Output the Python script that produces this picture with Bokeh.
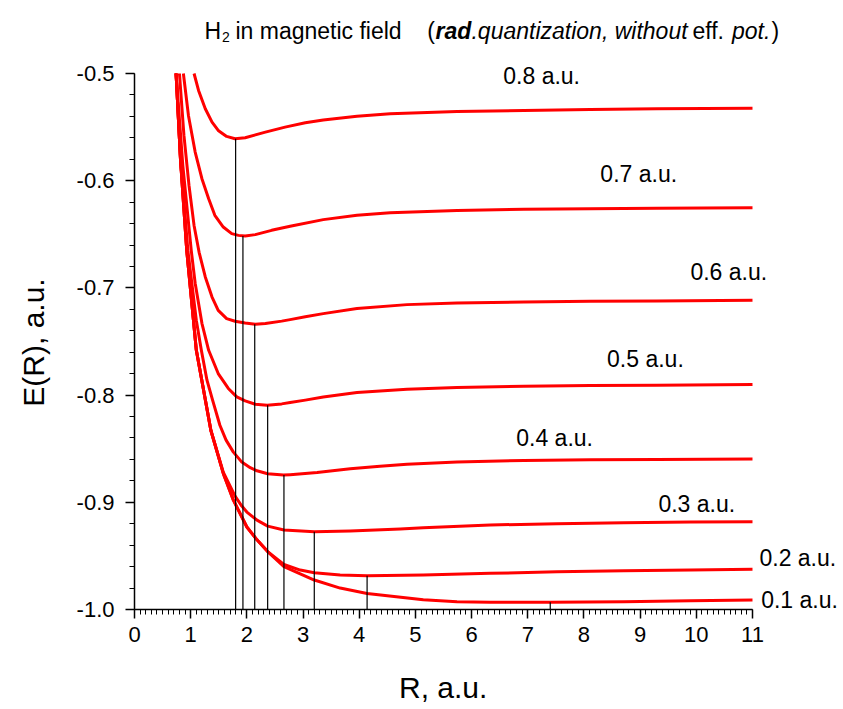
from bokeh.plotting import figure
from bokeh.models import Range1d, FixedTicker, PrintfTickFormatter, Label
from bokeh.embed import file_html
from bokeh.resources import INLINE

# ---------------- data ----------------
fields = ["0.1", "0.2", "0.3", "0.4", "0.5", "0.6", "0.7", "0.8"]

R_01 = [0.74, 0.82, 0.93, 1.10, 1.36, 1.58, 1.76, 2.00, 2.18, 2.37, 2.66, 3.20, 3.66, 4.14, 5.14, 5.74, 6.33, 7.40, 8.71, 9.90, 11.0]
E_01 = [-0.500, -0.581, -0.665, -0.758, -0.833, -0.873, -0.898, -0.923, -0.935, -0.946, -0.960, -0.9725, -0.980, -0.985, -0.991, -0.9927, -0.9933, -0.9933, -0.9927, -0.9918, -0.9911]

R_02 = [0.74, 0.82, 0.93, 1.10, 1.36, 1.58, 1.76, 2.00, 2.18, 2.37, 2.66, 2.95, 3.20, 3.66, 4.14, 5.14, 6.33, 7.52, 8.71, 9.90, 11.0]
E_02 = [-0.500, -0.581, -0.665, -0.758, -0.833, -0.873, -0.898, -0.923, -0.935, -0.946, -0.958, -0.9632, -0.9657, -0.9678, -0.9685, -0.9678, -0.9663, -0.9648, -0.9638, -0.9632, -0.9625]

R_03 = [0.74, 0.82, 0.93, 1.10, 1.36, 1.58, 1.79, 1.91, 2.00, 2.18, 2.37, 2.66, 3.20, 3.84, 4.73, 5.14, 6.33, 7.52, 8.71, 9.90, 11.0]
E_03 = [-0.500, -0.581, -0.665, -0.758, -0.833, -0.872, -0.8942, -0.9035, -0.9091, -0.9166, -0.9222, -0.9259, -0.9275, -0.9268, -0.9248, -0.9237, -0.9212, -0.9199, -0.9191, -0.9184, -0.9182]

R_04 = [0.74, 0.82, 0.95, 1.10, 1.19, 1.29, 1.39, 1.52, 1.63, 1.76, 1.91, 2.06, 2.18, 2.37, 2.65, 2.77, 3.25, 3.84, 4.37, 4.85, 5.74, 6.93, 8.11, 9.30, 11.0]
E_04 = [-0.500, -0.581, -0.665, -0.7302, -0.7582, -0.7861, -0.8047, -0.8281, -0.8420, -0.8532, -0.8625, -0.8677, -0.8706, -0.8733, -0.8746, -0.8742, -0.8722, -0.8688, -0.8663, -0.8645, -0.8625, -0.8609, -0.8604, -0.8600, -0.8597]

R_05 = [0.74, 0.86, 1.01, 1.08, 1.20, 1.32, 1.49, 1.67, 1.82, 1.97, 2.15, 2.36, 2.62, 2.77, 3.04, 3.36, 3.96, 4.85, 5.74, 6.93, 8.11, 9.30, 11.0]
E_05 = [-0.500, -0.5857, -0.665, -0.6957, -0.7330, -0.7582, -0.7799, -0.7938, -0.8017, -0.8054, -0.8085, -0.8094, -0.8082, -0.8070, -0.8047, -0.8017, -0.7976, -0.7945, -0.7929, -0.7917, -0.7911, -0.7908, -0.7901]

R_06 = [0.80, 0.88, 0.97, 1.06, 1.15, 1.26, 1.38, 1.49, 1.64, 1.79, 1.97, 2.15, 2.33, 2.62, 2.77, 3.04, 3.36, 3.96, 4.85, 5.74, 6.93, 8.11, 9.30, 11.0]
E_06 = [-0.500, -0.5578, -0.6044, -0.6417, -0.6668, -0.6898, -0.7085, -0.7209, -0.7286, -0.7311, -0.7327, -0.7339, -0.7333, -0.7310, -0.7296, -0.7270, -0.7240, -0.7193, -0.7156, -0.7141, -0.7131, -0.7125, -0.7122, -0.7116]

R_07 = [0.87, 0.96, 1.08, 1.20, 1.32, 1.43, 1.58, 1.73, 1.85, 1.97, 2.15, 2.44, 2.77, 3.36, 3.96, 4.55, 5.74, 6.93, 8.11, 9.30, 11.0]
E_07 = [-0.500, -0.5391, -0.5733, -0.5981, -0.6168, -0.6323, -0.6432, -0.6494, -0.6510, -0.6516, -0.6503, -0.6463, -0.6425, -0.6363, -0.6323, -0.6298, -0.6277, -0.6267, -0.6261, -0.6258, -0.6252]

R_08 = [1.06, 1.14, 1.26, 1.38, 1.49, 1.64, 1.79, 1.97, 2.33, 2.68, 3.04, 3.36, 3.96, 4.55, 5.74, 6.93, 8.11, 9.30, 11.0]
E_08 = [-0.500, -0.5158, -0.5329, -0.5454, -0.5531, -0.5587, -0.5609, -0.5599, -0.5547, -0.5500, -0.5459, -0.5433, -0.5398, -0.5376, -0.5354, -0.5345, -0.5336, -0.5329, -0.5323]

# positions of the minima (vertical marker lines)
R_min = [7.40, 4.14, 3.20, 2.66, 2.37, 2.14, 1.93, 1.80]
E_min = [-0.9933, -0.9685, -0.9275, -0.8746, -0.8094, -0.7339, -0.6516, -0.5609]

x_ticks = list(range(0, 12))
y_ticks = [-1.0, -0.9, -0.8, -0.7, -0.6, -0.5]

curves_R = [R_01, R_02, R_03, R_04, R_05, R_06, R_07, R_08]
curves_E = [E_01, E_02, E_03, E_04, E_05, E_06, E_07, E_08]

# ---------------- layout ----------------
# label anchor points (data coords)
label_x = [11.154, 11.124, 9.325, 6.795, 8.411, 9.895, 8.292, 6.564]
label_y = [-0.9911, -0.9520, -0.9017, -0.8397, -0.7665, -0.6855, -0.5941, -0.5019]

FONT = "Liberation Sans"
NBSP = "\u00a0"

# The frame is stretched to the top and right edges of the canvas so that the
# title and the curve labels beyond R = 11 are not clipped; the axes are bounded
# to the real data extent (R 0..11, E -1.0..-0.5).
p = figure(width=843, height=709,
           x_range=Range1d(0, 12.6197), y_range=Range1d(-1.0, -0.43190),
           output_backend="svg", toolbar_location=None,
           min_border_left=134, min_border_right=0,
           min_border_top=0, min_border_bottom=100)
p.outline_line_color = None
p.xgrid.visible = False
p.ygrid.visible = False
p.background_fill_color = "white"
p.border_fill_color = "white"

for R, E in zip(curves_R, curves_E):
    p.line(R, E, line_color="#ff0000", line_width=3, line_join="round")

p.segment(x0=R_min, y0=[-1.0] * len(R_min), x1=R_min, y1=E_min,
          line_color="black", line_width=1.2)

# axes
minor_x = [i / 10 for i in range(0, 111)]
minor_y = [-1.0 + i * 0.02 for i in range(0, 26)]
p.xaxis.ticker = FixedTicker(ticks=x_ticks, minor_ticks=minor_x)
p.yaxis.ticker = FixedTicker(ticks=y_ticks, minor_ticks=minor_y)
p.yaxis.formatter = PrintfTickFormatter(format="%.1f")
p.xaxis.bounds = (0, 11)
p.yaxis.bounds = (-1.0, -0.5)

for ax in (p.xaxis[0], p.yaxis[0]):
    ax.axis_line_color = "black"
    ax.axis_line_width = 1.5
    ax.major_tick_line_color = "black"
    ax.major_tick_line_width = 1.5
    ax.minor_tick_line_color = "black"
    ax.minor_tick_line_width = 1
    ax.major_tick_in = 0
    ax.major_tick_out = 9
    ax.minor_tick_in = 0
    ax.minor_tick_out = 5
    ax.major_label_text_font = FONT
    ax.major_label_text_font_size = "22px"
    ax.major_label_text_color = "black"
    ax.axis_label_text_font = FONT
    ax.axis_label_text_font_size = "30px"
    ax.axis_label_text_font_style = "normal"
    ax.axis_label_text_color = "black"

# axis titles are centred on the frame; trailing no-break spaces move them
# to the centre of the bounded axes as in the reference
p.xaxis.axis_label = "R, a.u." + NBSP * 11
p.yaxis.axis_label = "E(R), a.u." + NBSP * 9
p.xaxis.major_label_standoff = 8
p.xaxis.axis_label_standoff = 26
p.yaxis.major_label_standoff = 11
p.yaxis.axis_label_standoff = 24

# curve labels
for f, lx, ly in zip(fields, label_x, label_y):
    p.add_layout(Label(x=lx, y=ly, text=f + " a.u.", text_font=FONT,
                       text_font_size="23px", text_align="left",
                       text_baseline="middle", text_color="black"))

# title pieces (mixed styles)
title_base = -0.4599
title_parts = [
    ("H", 1.247, title_base, "23px", "normal"),
    ("2", 1.559, -0.4655, "14px", "normal"),
    ("in magnetic field", 1.797, title_base, "23px", "normal"),
    ("(", 5.210, title_base, "23px", "normal"),
    ("rad", 5.358, title_base, "23px", "bold italic"),
    (".quantization, without", 5.998, title_base, "23px", "italic"),
    ("eff.", 9.930, title_base, "23px", "normal"),
    ("pot.", 10.634, title_base, "23px", "italic"),
    (")", 11.338, title_base, "23px", "normal"),
]
for txt, tx, ty, fs, st in title_parts:
    p.add_layout(Label(x=tx, y=ty, text=txt, text_font=FONT, text_font_size=fs,
                       text_font_style=st, text_align="left",
                       text_baseline="alphabetic", text_color="black"))

open("out.html", "w").write(file_html(p, INLINE))
